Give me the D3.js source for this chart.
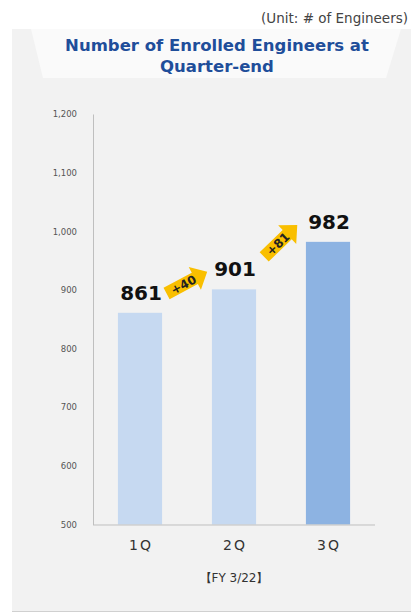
<!DOCTYPE html>
<html><head><meta charset="utf-8">
<script src="https://cdn.jsdelivr.net/npm/d3@7"></script>
<style>html,body{margin:0;padding:0;background:#fff;}svg{display:block;}</style>
</head><body>
<script>
const categories = ["1Q", "2Q", "3Q"];
const values = [861, 901, 982];
const diffs = ["+40", "+81"];
const yTicks = [500, 600, 700, 800, 900, 1000, 1100, 1200];
const barColors = ["#c6d9f1", "#c6d9f1", "#8db3e2"];
const titleLines = ["Number of Enrolled Engineers at", "Quarter-end"];

const W = 411, H = 613;
const svg = d3.select("body").append("svg").attr("width", W).attr("height", H);

// panel
svg.append("rect").attr("x", 12).attr("y", 29).attr("width", W - 12).attr("height", 582).attr("fill", "#f2f2f2");
svg.append("line").attr("x1", 12).attr("x2", W).attr("y1", 611.5).attr("y2", 611.5).attr("stroke", "#d0d0d0");
// header trapezoid
svg.append("path").attr("d", "M31,29 L401,29 L386,78 L43,78 Z").attr("fill", "#fafafa");

svg.append("text").attr("x", 408).attr("y", 23).attr("text-anchor", "end")
  .attr("font-family", "DejaVu Sans, Verdana, sans-serif").attr("font-size", 13.5).attr("fill", "#444")
  .text("(Unit: # of Engineers)");

svg.append("g").selectAll("text").data(titleLines).join("text")
  .attr("x", 217).attr("y", (d, i) => 51 + i * 21).attr("text-anchor", "middle")
  .attr("font-family", "DejaVu Sans, Verdana, sans-serif").attr("font-weight", "bold")
  .attr("font-size", 16.5).attr("fill", "#1f4e9a").text(d => d);

const x = d3.scaleBand().domain(categories).range([93, 375]).paddingInner(0.53).paddingOuter(0.265);
const y = d3.scaleLinear().domain([500, 1200]).range([524.5, 114]);

// y axis
const yAxis = d3.axisLeft(y).tickValues(yTicks).tickSize(0).tickPadding(16).tickFormat(d3.format(","));
const gy = svg.append("g").attr("transform", "translate(93,0)").call(yAxis);
gy.select(".domain").attr("stroke", "#bfbfbf");
gy.selectAll("text").attr("font-family", "DejaVu Sans, Verdana, sans-serif").attr("font-size", 8.5).attr("fill", "#555");

// bars
svg.append("g").selectAll("rect").data(values).join("rect")
  .attr("x", (d, i) => x(categories[i])).attr("width", x.bandwidth())
  .attr("y", d => y(d)).attr("height", d => y(500) - y(d))
  .attr("fill", (d, i) => barColors[i]);

// x axis
const xAxis = d3.axisBottom(x).tickSize(0).tickPadding(16);
const gx = svg.append("g").attr("transform", "translate(0," + y(500) + ")").call(xAxis);
gx.select(".domain").attr("stroke", "#bfbfbf").attr("d", "M93,0.5H375");
gx.selectAll("text").attr("font-family", "DejaVu Sans, Verdana, sans-serif").attr("font-size", 14)
  .attr("fill", "#333").attr("letter-spacing", 2).attr("dx", 1);

svg.append("text").attr("x", 234).attr("y", 582).attr("text-anchor", "middle")
  .attr("font-family", "DejaVu Sans, Verdana, sans-serif").attr("font-size", 12).attr("fill", "#333")
  .text("【FY 3/22】");

// value labels
svg.append("g").selectAll("text").data(values).join("text")
  .attr("x", (d, i) => x(categories[i]) + x.bandwidth() / 2 + 1)
  .attr("y", d => y(d) - 13).attr("text-anchor", "middle")
  .attr("font-family", "DejaVu Sans, Verdana, sans-serif").attr("font-weight", "bold")
  .attr("font-size", 20).attr("fill", "#111").text(d => d);

// arrows
const angles = [-28, -44];
const offs = [-18, -24];
const arrowPath = "M-22,-6.5 L10,-6.5 L10,-13 L24,0 L10,13 L10,6.5 L-22,6.5 Z";
diffs.forEach((t, i) => {
  const cx = (x(categories[i]) + x(categories[i + 1]) + x.bandwidth()) / 2 - 1;
  const cy = y((values[i] + values[i + 1]) / 2) + offs[i];
  const g = svg.append("g").attr("transform", `translate(${cx},${cy}) rotate(${angles[i]})`);
  g.append("path").attr("d", arrowPath).attr("fill", "#f9bf00");
  g.append("text").attr("x", -3).attr("y", 4.5).attr("text-anchor", "middle")
    .attr("font-family", "DejaVu Sans, Verdana, sans-serif").attr("font-weight", "bold")
    .attr("font-size", 12).attr("fill", "#222").text(t);
});
</script>
</body></html>
